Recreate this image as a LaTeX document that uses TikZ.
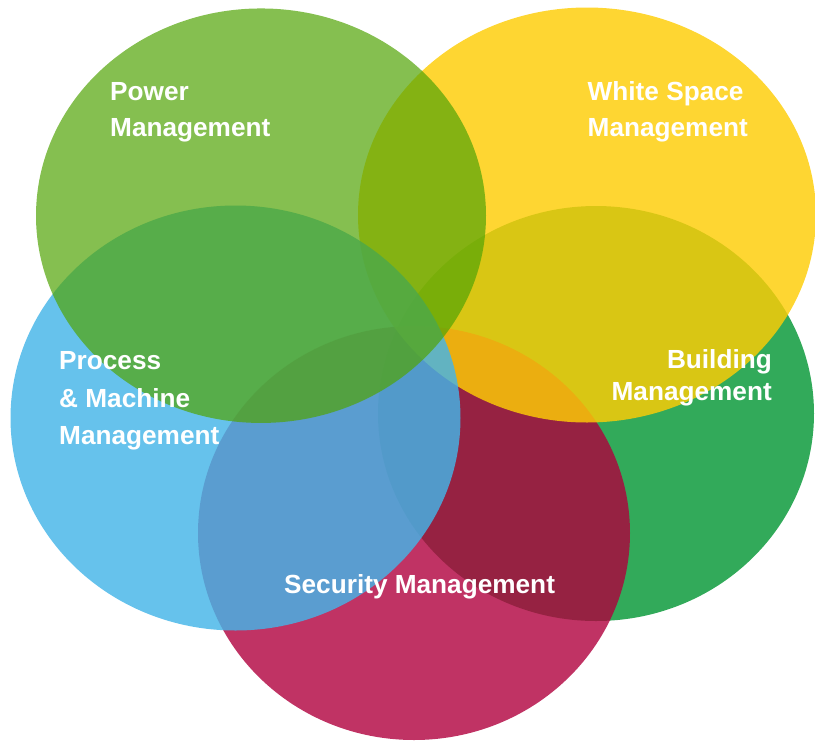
\documentclass[tikz,border=0pt]{standalone}
\usepackage{fontspec}
\setmainfont{Liberation Sans}
\usetikzlibrary{shapes.geometric}
\definecolor{powergreen}{RGB}{81,164,5}
\definecolor{spaceyellow}{RGB}{254,205,5}
\definecolor{processblue}{RGB}{68,181,232}
\definecolor{buildinggreen}{RGB}{50,170,90}
\definecolor{securityred}{RGB}{176,0,61}
\tikzset{
    area/.style={ellipse, inner sep=0pt, draw=none},
    tag/.style={text=white, font=\bfseries\fontsize{26.2}{36.5}\selectfont, inner sep=0pt},
}

\begin{document}
\begin{tikzpicture}[x=1pt, y=-1pt]
        \useasboundingbox (0,0) rectangle (815,740);
        \node [area, fill=buildinggreen, minimum width=436pt, minimum height=415pt] (building) at (596,413.5) {};
        \node [area, fill=securityred, fill opacity=0.8, minimum width=432pt, minimum height=414pt] (security) at (414,533) {};
        \node [area, fill=spaceyellow, fill opacity=0.82, minimum width=458pt, minimum height=415pt] (space) at (587,215) {};
        \node [area, fill=processblue, fill opacity=0.82, minimum width=450pt, minimum height=425pt] (process) at (235.5,418) {};
        \node [area, fill=powergreen, fill opacity=0.7, minimum width=450pt, minimum height=414.5pt] (power) at (261,215.7) {};
        \node [tag, align=left, anchor=base west] (powertxt) at (110,136.5) {Power\\Management};
        \node [tag, align=left, anchor=base west] (spacetxt) at (587.5,136.5) {White Space\\Management};
        \node [tag, align=left, anchor=base west, font=\bfseries\fontsize{26.2}{37.5}\selectfont] (processtxt) at (59,444.5) {Process\\\& Machine\\Management};
        \node [tag, align=right, anchor=base east, font=\bfseries\fontsize{26.2}{32}\selectfont] (buildingtxt) at (772,400) {Building\\Management};
        \node [tag, anchor=base west] (securitytxt) at (284,593.3) {Security Management};
    \end{tikzpicture}
\end{document}
